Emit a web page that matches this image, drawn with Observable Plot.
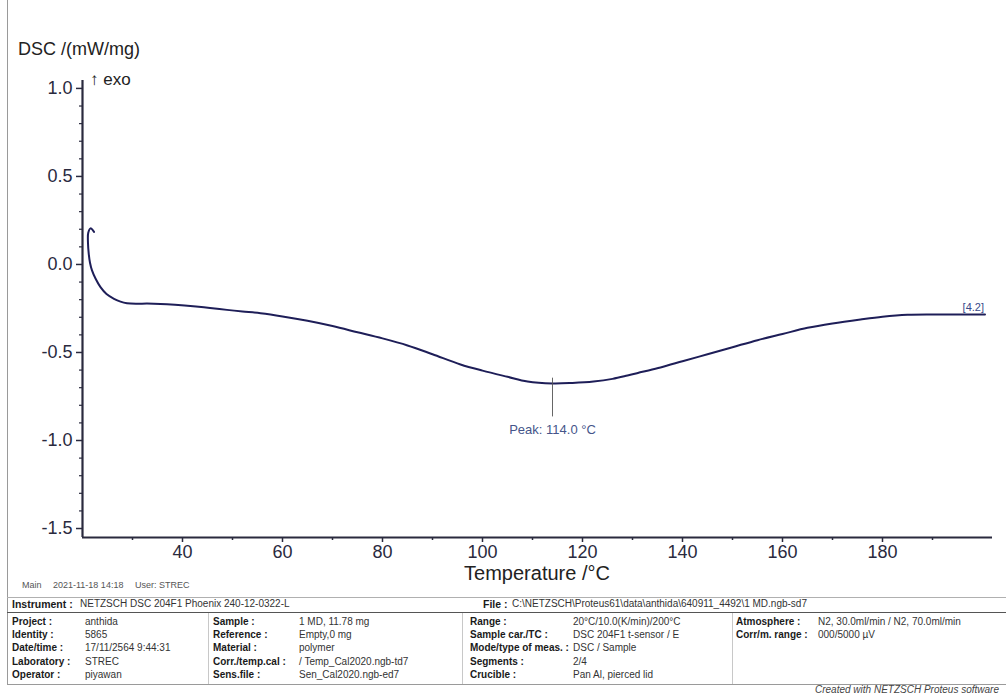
<!DOCTYPE html>
<html><head><meta charset="utf-8">
<script src="https://cdn.jsdelivr.net/npm/d3@7"></script>
<script src="https://cdn.jsdelivr.net/npm/@observablehq/plot@0.6"></script>
<style>
html,body{margin:0;padding:0;background:#fff;overflow:hidden;}
#wrap{position:relative;width:1006px;height:695px;overflow:hidden;font-family:"Liberation Sans",Arial,sans-serif;background:#fff;}
#chart{position:absolute;left:0;top:0;}
.t{position:absolute;white-space:nowrap;line-height:14px;height:14px;}
.lab{font-weight:bold;color:#1a1a1a;font-size:10px;}
.hlab{font-weight:bold;color:#1a1a1a;font-size:10.5px;}
.val{color:#333;font-size:10px;}
.hl{position:absolute;height:0;}
.vl{position:absolute;width:0;}
</style></head><body><div id="wrap"><div id="chart"></div></div>
<script>
// ---- data ----
const tempC = [22.3, 21.6, 21.15, 21.1, 21.25, 21.5, 21.9, 22.6, 23.6, 24.8, 26.3, 27.6, 28.9, 30.8, 32.9, 35.6, 38.5, 42.7, 45.5, 48.9, 52.0, 55.6, 60, 65, 70, 75, 80, 85, 90, 95.6, 100, 105, 109, 114, 118, 122.2, 126, 129, 132, 135.6, 140, 145, 150, 155, 160, 165, 170, 175.6, 180, 185, 190, 195, 200.5];
const dsc   = [0.185, 0.205, 0.18, 0.12, 0.06, 0.01, -0.034, -0.08, -0.129, -0.168, -0.195, -0.211, -0.22, -0.223, -0.222, -0.224, -0.229, -0.239, -0.247, -0.258, -0.267, -0.277, -0.295, -0.32, -0.35, -0.385, -0.42, -0.46, -0.51, -0.568, -0.603, -0.638, -0.665, -0.676, -0.673, -0.665, -0.65, -0.631, -0.61, -0.585, -0.55, -0.51, -0.47, -0.43, -0.395, -0.36, -0.335, -0.3125, -0.297, -0.286, -0.284, -0.284, -0.284];
const peakT = 114.0;
const peakV = -0.676;
const peakLabel = "Peak: 114.0 °C";
const endLabel = "[4.2]";
const xDomain = [20, 202];
const yDomain = [-1.551, 1.045];
const xTicks = [40, 60, 80, 100, 120, 140, 160, 180];
const xMinor = [30, 50, 70, 90, 110, 130, 150, 170, 190];
const yTicks = [-1.5, -1.0, -0.5, 0.0, 0.5, 1.0];
const yMinor = [-1.4, -1.3, -1.2, -1.1, -0.9, -0.8, -0.7, -0.6, -0.4, -0.3, -0.2, -0.1, 0.1, 0.2, 0.3, 0.4, 0.6, 0.7, 0.8, 0.9];

const yTitle = "DSC /(mW/mg)";
const exoLabel = "↑ exo";
const xTitle = "Temperature /°C";
const mainLine = ["Main", "2021-11-18 14:18", "User: STREC"];
const instrument = ["Instrument :", "NETZSCH DSC 204F1 Phoenix 240-12-0322-L"];
const fileInfo = ["File :", "C:\\NETZSCH\\Proteus61\\data\\anthida\\640911_4492\\1 MD.ngb-sd7"];
const col1Labels = ["Project :", "Identity :", "Date/time :", "Laboratory :", "Operator :"];
const col1Values = ["anthida", "5865", "17/11/2564 9:44:31", "STREC", "piyawan"];
const col2Labels = ["Sample :", "Reference :", "Material :", "Corr./temp.cal :", "Sens.file :"];
const col2Values = ["1 MD, 11.78 mg", "Empty,0 mg", "polymer", "/ Temp_Cal2020.ngb-td7", "Sen_Cal2020.ngb-ed7"];
const col3Labels = ["Range :", "Sample car./TC :", "Mode/type of meas. :", "Segments :", "Crucible :"];
const col3Values = ["20°C/10.0(K/min)/200°C", "DSC 204F1 t-sensor / E", "DSC / Sample", "2/4", "Pan Al, pierced lid"];
const col4Labels = ["Atmosphere :", "Corr/m. range :"];
const col4Values = ["N2, 30.0ml/min / N2, 70.0ml/min", "000/5000 µV"];
const footer = "Created with NETZSCH Proteus software";

// ---- chart ----
const axisColor = "#2a2a3e";
const lineColor = "#1e1e58";
const curve = tempC.map((t, i) => ({t, v: dsc[i]}));
const peak = [{t: peakT, v: peakV, label: peakLabel}];
const endPt = [{t: tempC[tempC.length - 1], v: dsc[dsc.length - 1], label: endLabel}];

const chart = Plot.plot({
  width: 1006, height: 570,
  marginLeft: 82, marginRight: 14, marginTop: 80, marginBottom: 33,
  style: {fontFamily: "'Liberation Sans', Arial, sans-serif", fontSize: "18px", color: axisColor, background: "transparent", overflow: "visible"},
  x: {domain: xDomain, label: null},
  y: {domain: yDomain, label: null},
  marks: [
    Plot.axisX({ticks: xTicks, tickSize: 5, tickPadding: 3, fontSize: 18, tickFormat: d => String(d), label: null, strokeWidth: 1.5}),
    Plot.axisX({ticks: xMinor, tickSize: 3, tickFormat: () => "", label: null, strokeWidth: 1.5}),
    Plot.axisY({ticks: yTicks, tickSize: 6, tickPadding: 4, fontSize: 18, tickFormat: d => d.toFixed(1), label: null, strokeWidth: 1.5}),
    Plot.axisY({ticks: yMinor, tickSize: 3, tickFormat: () => "", label: null, strokeWidth: 1.2}),
    Plot.ruleY([yDomain[0]], {stroke: axisColor, strokeWidth: 2.2}),
    Plot.ruleX([xDomain[0]], {stroke: axisColor, strokeWidth: 2.2}),
    Plot.line(curve, {x: "t", y: "v", stroke: lineColor, strokeWidth: 2, curve: "catmull-rom"}),
    Plot.ruleX(peak, {x: "t", y1: d => d.v + 0.03, y2: d => d.v - 0.19, stroke: "#555", strokeWidth: 0.9}),
    Plot.text(peak, {x: "t", y: "v", dy: 46, text: "label", fontSize: 13, fill: "#45558a"}),
    Plot.text(endPt, {x: "t", y: "v", dy: -7, dx: -1, textAnchor: "end", text: "label", fontSize: 11, fill: "#3a4a8a"})
  ]
});
document.getElementById("chart").appendChild(chart);

// ---- html text & info table ----
const wrap = document.getElementById("wrap");
function txt(s, x, cy, cls, extra) {
  const d = document.createElement("div");
  d.className = "t " + (cls || "");
  d.textContent = s;
  d.style.left = x + "px";
  d.style.top = (cy - 7) + "px";
  if (extra) Object.assign(d.style, extra);
  wrap.appendChild(d);
  return d;
}
function hline(x1, x2, y, color, w) {
  const d = document.createElement("div");
  d.className = "hl";
  Object.assign(d.style, {left: x1 + "px", width: (x2 - x1) + "px", top: y + "px", borderTop: (w || 1) + "px solid " + color});
  wrap.appendChild(d);
}
function vline(x, y1, y2, color) {
  const d = document.createElement("div");
  d.className = "vl";
  Object.assign(d.style, {left: x + "px", top: y1 + "px", height: (y2 - y1) + "px", borderLeft: "1px solid " + color});
  wrap.appendChild(d);
}

txt(yTitle, 18, 49, "", {fontSize: "18px", color: "#222", lineHeight: "20px", height: "20px", top: "39px"});
txt(exoLabel, 90, 80, "", {fontSize: "17px", color: "#222", lineHeight: "20px", height: "20px", top: "70px"});
txt(xTitle, 0, 573, "", {fontSize: "20px", color: "#222", lineHeight: "20px", height: "20px", top: "563px", width: "1074px", textAlign: "center"});

// frame & table lines
vline(7, 0, 684, "#9a9a9a");
hline(7, 1006, 597, "#b0b0b0", 1);
hline(7, 1006, 612, "#555", 1.5);
hline(7, 1006, 684, "#9a9a9a", 1);
vline(208, 613, 684, "#c8c8c8");
vline(462, 613, 684, "#c8c8c8");
vline(732, 613, 684, "#c8c8c8");

txt(mainLine[0], 22, 585, "", {fontSize: "9px", color: "#555"});
txt(mainLine[1], 53, 585, "", {fontSize: "9px", color: "#555"});
txt(mainLine[2], 135, 585, "", {fontSize: "9px", color: "#555"});

txt(instrument[0], 12, 604, "hlab");
txt(instrument[1], 80, 604, "val");
txt(fileInfo[0], 483, 604, "hlab");
txt(fileInfo[1], 512, 604, "val");

const rowY = [622, 635, 648, 662, 675];
col1Labels.forEach((s, i) => { txt(s, 12, rowY[i], "lab"); txt(col1Values[i], 85, rowY[i], "val"); });
col2Labels.forEach((s, i) => { txt(s, 213, rowY[i], "lab"); txt(col2Values[i], 299, rowY[i], "val"); });
col3Labels.forEach((s, i) => { txt(s, 470, rowY[i], "lab"); txt(col3Values[i], 573, rowY[i], "val"); });
col4Labels.forEach((s, i) => { txt(s, 736, rowY[i], "lab"); txt(col4Values[i], 818, rowY[i], "val"); });

txt(footer, 815, 690, "", {fontSize: "10px", fontStyle: "italic", color: "#444"});
</script>
</body></html>
